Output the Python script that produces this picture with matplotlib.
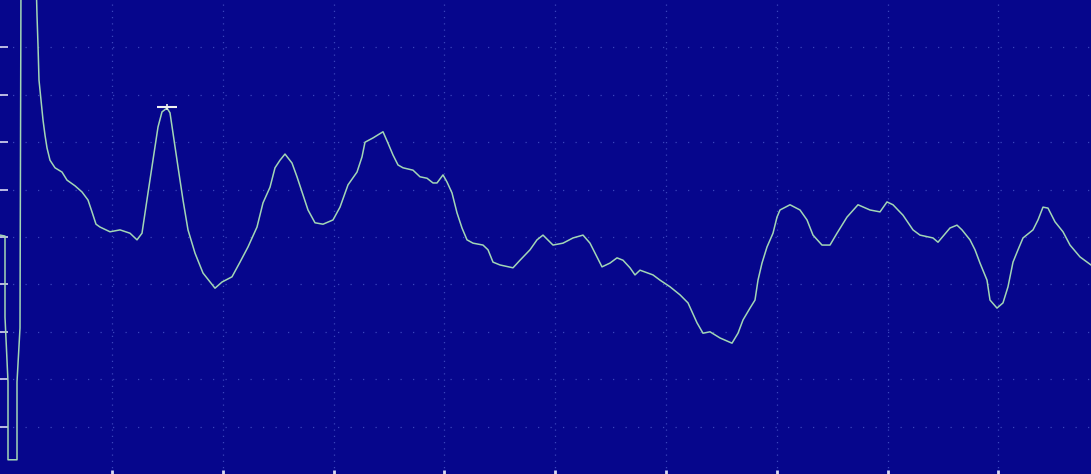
import numpy as np
import matplotlib.pyplot as plt

# ========== Trace data (bin index, level in dB) ==========
bins = [0, 5, 5, 8, 8, 17, 17, 20, 21,
        36, 37, 38, 39, 41, 43, 45, 47, 50, 55, 62, 67, 75, 82, 88, 92, 96, 100,
        110, 120, 130, 137, 142, 145, 148, 153, 158, 162, 167, 170, 173, 178, 183,
        188, 195, 203, 215, 222, 232, 240, 248, 257, 263, 270, 275, 280, 285, 292,
        297, 303, 308, 315, 323, 333, 340, 348, 357, 362, 365, 373, 383, 388, 393,
        398, 403, 413, 420, 427, 433, 437, 443, 447, 452, 457, 462, 467, 473, 483,
        488, 493, 500, 513, 520, 530, 537, 543, 553, 563, 573, 583, 590, 597, 602,
        610, 617, 623, 630, 635, 640, 653, 660, 670, 680, 688, 697, 703, 710, 720,
        732, 738, 743, 750, 755, 758, 762, 767, 773, 777, 780, 790, 800, 807, 813,
        822, 830, 837, 847, 858, 870, 880, 887, 893, 903, 913, 920, 933, 938, 950,
        957, 962, 970, 975, 980, 987, 990, 997, 1003, 1008, 1013, 1018, 1023, 1033,
        1038, 1043, 1048, 1055, 1063, 1070, 1080, 1091]

level_db = [-49.6, -49.8, -66.9, -80.6, -97.0, -97.0, -80.6, -69.2, 5,
            5, -3.2, -9.5, -16.9, -21.1, -25.3, -28.5, -31.2, -33.8, -35.4, -36.3, -38.0,
            -39.2, -40.5, -42.2, -44.7, -47.3, -47.9,
            -48.9, -48.5, -49.2, -50.6, -49.2, -44.9, -40.7, -33.8, -26.8, -23.6, -22.8,
            -23.8, -28.1, -35.2, -42.2,
            -48.5, -53.4, -57.6, -60.8, -59.5, -58.4, -55.3, -52.1, -47.9, -42.8, -39.5,
            -35.4, -33.8, -32.5, -34.4,
            -37.3, -41.1, -44.3, -47.0, -47.3, -46.4, -43.7, -39.0, -36.3, -33.1, -30.0,
            -29.1, -27.8, -30.2, -32.7,
            -34.8, -35.4, -35.9, -37.3, -37.6, -38.6, -38.6, -36.9, -38.4, -40.7, -44.9,
            -48.1, -50.6, -51.3, -51.7,
            -52.7, -55.3, -55.9, -56.5, -54.9, -52.7, -50.6, -49.6, -51.7, -51.3, -50.2,
            -49.6, -51.3, -54.2, -56.3,
            -55.5, -54.4, -54.9, -56.5, -58.0, -57.0, -58.0, -59.1, -60.5, -62.2, -63.9,
            -68.1, -70.3, -70.0, -71.3,
            -72.4, -70.3, -67.5, -65.0, -63.3, -59.1, -55.5, -52.1, -49.2, -45.8, -44.3,
            -43.2, -44.3, -46.4, -49.6,
            -51.7, -51.7, -49.2, -45.8, -43.2, -44.3, -44.7, -42.6, -43.2, -45.4, -48.5,
            -49.6, -50.2, -51.1, -48.1,
            -47.5, -48.5, -50.6, -52.7, -55.5, -59.1, -63.3, -65.0, -63.9, -60.5, -55.3,
            -52.7, -50.2, -48.5,
            -46.4, -43.7, -43.9, -46.8, -48.9, -51.7, -54.2, -55.9]

peak_bin = 167
peak_db = -22.6

# ========== Style ==========
BG = '#06068c'
TRACE = '#a2d6b6'
GRID = '#5060d0'
X_GRID = [112 + 110.8 * k for k in range(9)]
Y_GRID = list(range(-90, 0, 10))

fig = plt.figure(figsize=(10.91, 4.74), dpi=100, facecolor=BG)
ax = fig.add_axes([0, 0, 1, 1])
ax.set_facecolor(BG)

for x in X_GRID:
    ax.axvline(x, color=GRID, lw=0.9, linestyle=(0, (1, 4)), alpha=0.7, zorder=1)
for y in Y_GRID:
    ax.axhline(y, color=GRID, lw=0.9, linestyle=(0, (1, 9)), alpha=0.7, zorder=1)

ax.plot(bins, level_db, color=TRACE, lw=1.1, zorder=3)
ax.plot([peak_bin], [peak_db], marker='_', ms=14, mew=1.5, color='#f0f0f0', zorder=4)
ax.plot([peak_bin], [peak_db], marker='|', ms=5, mew=1.2, color='#f0f0f0', zorder=4)

ax.set_xlim(0, 1091)
ax.set_ylim(-100, 0)
ax.set_xticks(X_GRID)
ax.set_yticks(Y_GRID)
ax.tick_params(axis='y', direction='in', length=6, width=1.2, color='#d8d8f0', labelleft=False)
ax.tick_params(axis='x', direction='in', length=3, width=2, color='#d8d8f0', labelbottom=False)
for s in ax.spines.values():
    s.set_visible(False)

fig.savefig('out.png', dpi=100, facecolor=BG)
